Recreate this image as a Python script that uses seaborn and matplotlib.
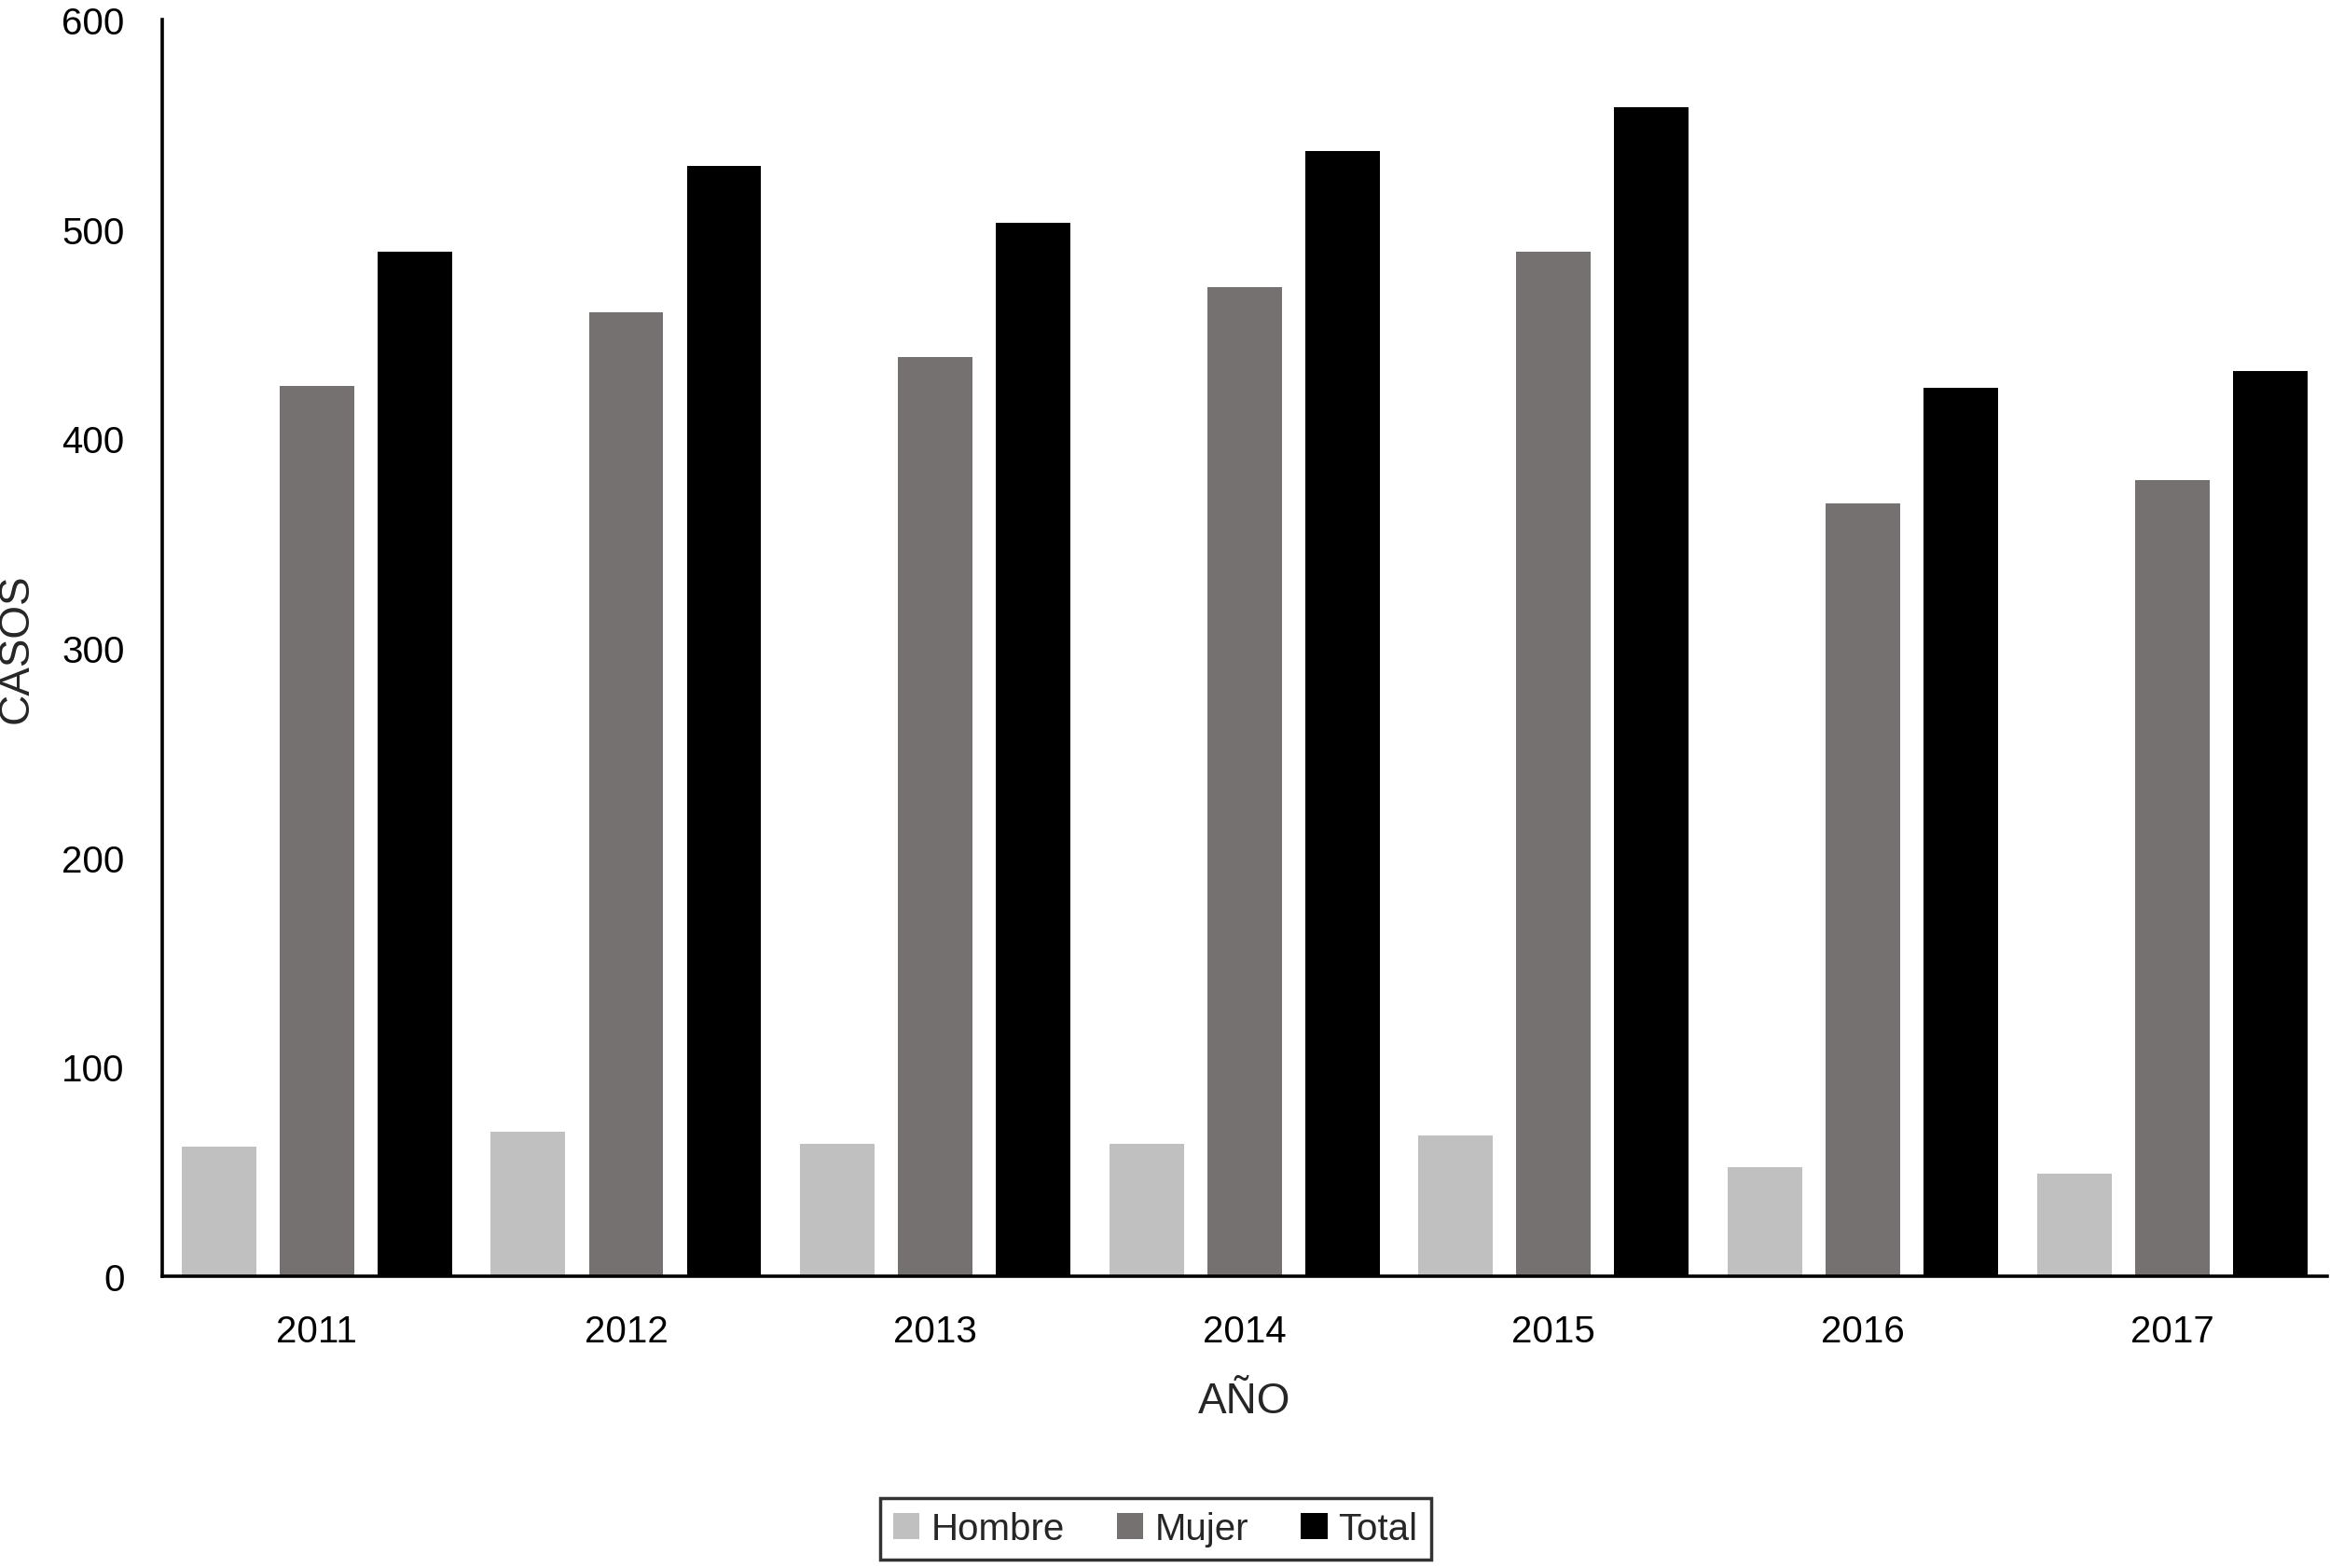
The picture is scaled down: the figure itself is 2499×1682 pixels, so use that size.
import matplotlib
matplotlib.use("Agg")
import matplotlib.pyplot as plt
import seaborn as sns
import pandas as pd

years = ["2011", "2012", "2013", "2014", "2015", "2016", "2017"]
hombre = [62, 69, 63, 63, 67, 52, 49]
mujer = [425, 460, 439, 472, 489, 369, 380]
total = [489, 530, 503, 537, 558, 424, 432]

series = ["Hombre", "Mujer", "Total"]
colors = ["#c0c0c0", "#757170", "#000000"]

df = pd.DataFrame({"AÑO": years, "Hombre": hombre, "Mujer": mujer, "Total": total})
df = df.melt(id_vars="AÑO", var_name="serie", value_name="CASOS")

sns.set_style("white")
plt.rcParams["font.family"] = ["Liberation Sans", "DejaVu Sans"]

fig = plt.figure(figsize=(24.99, 16.83), dpi=100)
ax = fig.add_axes([0.0696, 0.186, 0.929, 0.801])

sns.barplot(data=df, x="AÑO", y="CASOS", hue="serie", hue_order=series,
            palette=colors, width=0.95, gap=0.24, linewidth=0,
            saturation=1, ax=ax, legend=True)

ax.set_ylim(0, 600)
ax.set_xlim(-0.5, 6.5)
ax.set_yticks(range(0, 601, 100))
ax.tick_params(axis="both", length=0, labelsize=29, pad=29, colors="black")
sns.despine(ax=ax)
for s in ["left", "bottom"]:
    ax.spines[s].set_linewidth(2.6)
    ax.spines[s].set_color("black")

ax.set_ylabel("CASOS", fontsize=33, labelpad=30)
ax.set_xlabel("AÑO", fontsize=33, labelpad=24)
ax.yaxis.set_label_coords(-0.058, 0.5)

handles, labels = ax.get_legend_handles_labels()
ax.get_legend().remove()
leg = fig.legend(handles, labels, loc="center", bbox_to_anchor=(0.496, 0.025),
                 ncol=3, fontsize=29, frameon=True, fancybox=False,
                 handlelength=0.7, handleheight=0.7, handletextpad=0.3,
                 columnspacing=1.4, borderpad=0.35)
leg.get_frame().set_edgecolor("black")
leg.get_frame().set_linewidth(2.5)

fig.savefig("out.png", dpi=100)
